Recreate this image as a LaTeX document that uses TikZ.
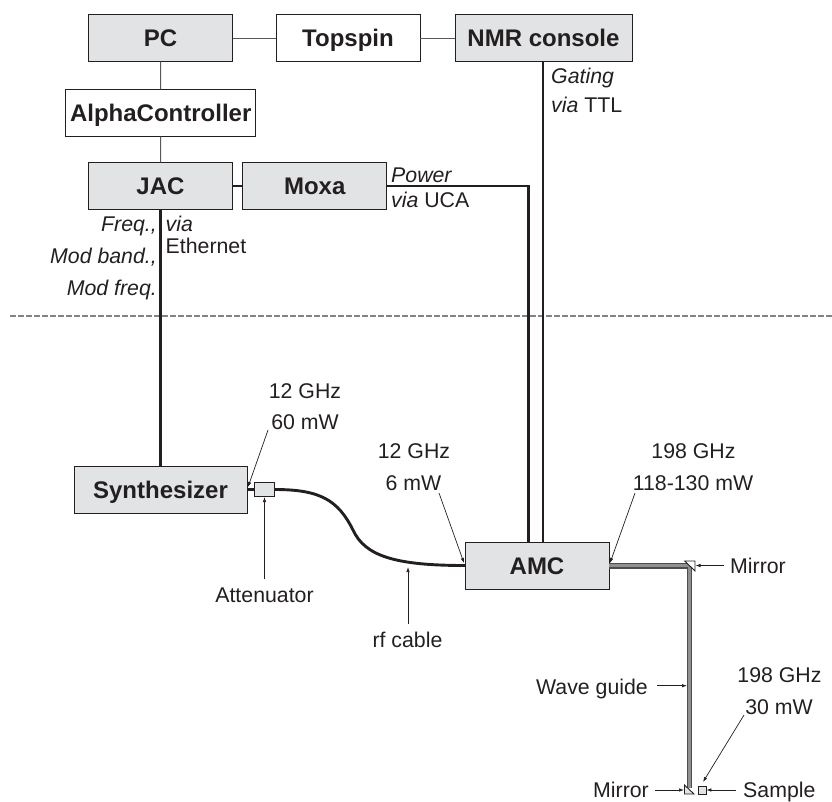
\documentclass[tikz,border=0pt]{standalone}
\usepackage{fontspec}
\setmainfont{Liberation Sans}
\usetikzlibrary{arrows.meta}
\definecolor{boxgray}{RGB}{226,227,228}
\definecolor{ink}{RGB}{35,31,32}
\tikzset{
  x=1pt,y=-1pt,
  boxbase/.style={draw=ink,line width=0.9pt,minimum height=46.5pt,inner sep=0pt,text height=20pt,text depth=3pt,font=\fontsize{24}{26}\selectfont\bfseries,text=ink,anchor=center},
  graybox/.style={boxbase,fill=boxgray},
  whitebox/.style={boxbase,fill=white},
  smallbox/.style={draw=ink,line width=0.8pt,fill=boxgray,inner sep=0pt},
  thinlink/.style={draw=ink!75,line width=1pt},
  thicklink/.style={draw=ink,line width=2.9pt},
  lab/.style={font=\fontsize{21.3}{24}\selectfont,text=ink,inner sep=0pt,text height=18pt,text depth=3pt},
  pointer/.style={draw=ink,line width=0.7pt,-{Latex[length=5pt,width=3.5pt]}},
  guide/.style={draw=ink!80,line width=5.6pt},
  guidein/.style={draw=ink!50,line width=2.6pt}
}
\begin{document}
\begin{tikzpicture}
\useasboundingbox (0,0) rectangle (832,801);
\draw[draw=ink!55,line width=2.5pt,dash pattern=on 5.5pt off 2.5pt] (10,316) -- (832,316);
% boxes
\node[graybox,minimum width=144pt] (pc) at (160.5,38) {PC};
\node[whitebox,minimum width=144pt] (top) at (348,38) {Topspin};
\node[graybox,minimum width=177pt] (nmr) at (543.5,38) {NMR console};
\node[whitebox,minimum width=190pt] (alpha) at (160.7,113) {AlphaController};
\node[graybox,minimum width=144pt] (jac) at (160.5,186) {JAC};
\node[graybox,minimum width=144pt] (moxa) at (314.7,186) {Moxa};
\node[graybox,minimum width=173pt,minimum height=47pt] (syn) at (160.5,489.5) {Synthesizer};
\node[smallbox,minimum width=20pt,minimum height=14pt] (att) at (264.5,489.5) {};
\node[graybox,minimum width=144pt,minimum height=47pt] (amc) at (537,565.5) {AMC};
% links
\draw[thinlink] (pc) -- (top);
\draw[thinlink] (top) -- (nmr);
\draw[thinlink] (pc) -- (alpha);
\draw[thinlink] (alpha) -- (jac);
\draw[thicklink] (jac) -- (moxa);
\coordinate (moxacorner) at (528.5,186);
\coordinate (amcmoxa) at (528.5,542);
\coordinate (amcnmr) at (543,542);
\coordinate (nmrdown) at (543,61);
\draw[thicklink,line join=miter] (moxa.east) -- (moxacorner) -- (amcmoxa);
\draw[thicklink] (nmrdown) -- (amcnmr);
\coordinate (jacdown) at (160.5,209);
\coordinate (syntop) at (160.5,466);
\draw[thicklink] (jacdown) -- (syntop);
\draw[thicklink] (syn.east) -- (att.west);
\coordinate (amcin) at (465,565.5);
\draw[thicklink] (att.east) .. controls (320,489.5) and (338,500) .. (353,530) .. controls (365,556) and (395,565.5) .. (amcin);
% waveguide
\coordinate (wgstart) at (609,565.7);
\coordinate (wgcorner) at (689.5,565.7);
\coordinate (wgend) at (689.5,788);
\draw[guide,line join=miter] (wgstart) -- (wgcorner) -- (wgend);
\draw[guidein,line join=miter] (wgstart) -- (wgcorner) -- (wgend);
% mirrors and sample
\draw[ink,line width=0.9pt,fill=white] (684.7,561) -- (695,561) -- (695,571) -- cycle;
\draw[ink,line width=0.9pt,fill=boxgray] (684.5,785) -- (694,794) -- (684.5,794) -- cycle;
\node[smallbox,minimum width=8pt,minimum height=8pt] (sample) at (702,790) {};
\coordinate (m2) at (684,790);
\coordinate (m1e) at (695.5,565.5);
% labels
\node[lab,anchor=west] (gat) at (551,76) {\itshape Gating};
\node[lab,anchor=west] (viattl) at (551,105) {\itshape via\upshape\ TTL};
\node[lab,anchor=west] (pow) at (391,175) {\itshape Power};
\node[lab,anchor=west] (viauca) at (391,199.5) {\itshape via\upshape\ UCA};
\node[lab,anchor=east] (fr) at (157,223.5) {\itshape Freq.,};
\node[lab,anchor=east] (mb) at (157,255.5) {\itshape Mod band.,};
\node[lab,anchor=east] (mf) at (157,288) {\itshape Mod freq.};
\node[lab,anchor=west] (via) at (165.5,224) {\itshape via};
\node[lab,anchor=west] (eth) at (165.5,245.5) {Ethernet};
\node[lab] (g1) at (305,390.5) {12 GHz};
\node[lab] (p1) at (305,422) {60 mW};
\node[lab] (g2) at (414,450.5) {12 GHz};
\node[lab] (p2) at (413.5,482.5) {6 mW};
\node[lab] (g3) at (693.5,450.5) {198 GHz};
\node[lab] (p3) at (693,482.5) {118-130 mW};
\node[lab,anchor=west] (mirtop) at (730,565.5) {Mirror};
\node[lab] (atl) at (264.5,594.5) {Attenuator};
\node[lab] (rf) at (407.5,640) {rf cable};
\node[lab,anchor=east] (wg) at (648,686.5) {Wave guide};
\node[lab] (g4) at (779.5,674.5) {198 GHz};
\node[lab] (p4) at (779,706.5) {30 mW};
\node[lab,anchor=east] (mirb) at (649,790) {Mirror};
\node[lab,anchor=west] (samp) at (743,790) {Sample};
% pointers
\coordinate (p1tip) at (248,487);
\coordinate (p1s) at (268,430);
\coordinate (p2tip) at (464,563);
\coordinate (p2s) at (439,493);
\coordinate (p3tip) at (610,563);
\coordinate (p3s) at (635,493);
\coordinate (attp) at (264.5,497);
\coordinate (attps) at (264.5,579);
\coordinate (rfp) at (408,567);
\coordinate (rfps) at (408,624);
\coordinate (wgs) at (657,685.7);
\coordinate (wgp) at (687,685.7);
\coordinate (mts) at (724,565.5);
\coordinate (mbs) at (655,790);
\coordinate (sas) at (736,790);
\coordinate (p4tip) at (703,782);
\coordinate (p4s) at (744,715);
\draw[pointer] (p1s) -- (p1tip);
\draw[pointer] (p2s) -- (p2tip);
\draw[pointer] (p3s) -- (p3tip);
\draw[pointer] (attps) -- (attp);
\draw[pointer] (rfps) -- (rfp);
\draw[pointer] (wgs) -- (wgp);
\draw[pointer] (mts) -- (m1e);
\draw[pointer] (mbs) -- (m2);
\draw[pointer] (sas) -- (sample.east);
\draw[pointer] (p4s) -- (p4tip);
\end{tikzpicture}
\end{document}
